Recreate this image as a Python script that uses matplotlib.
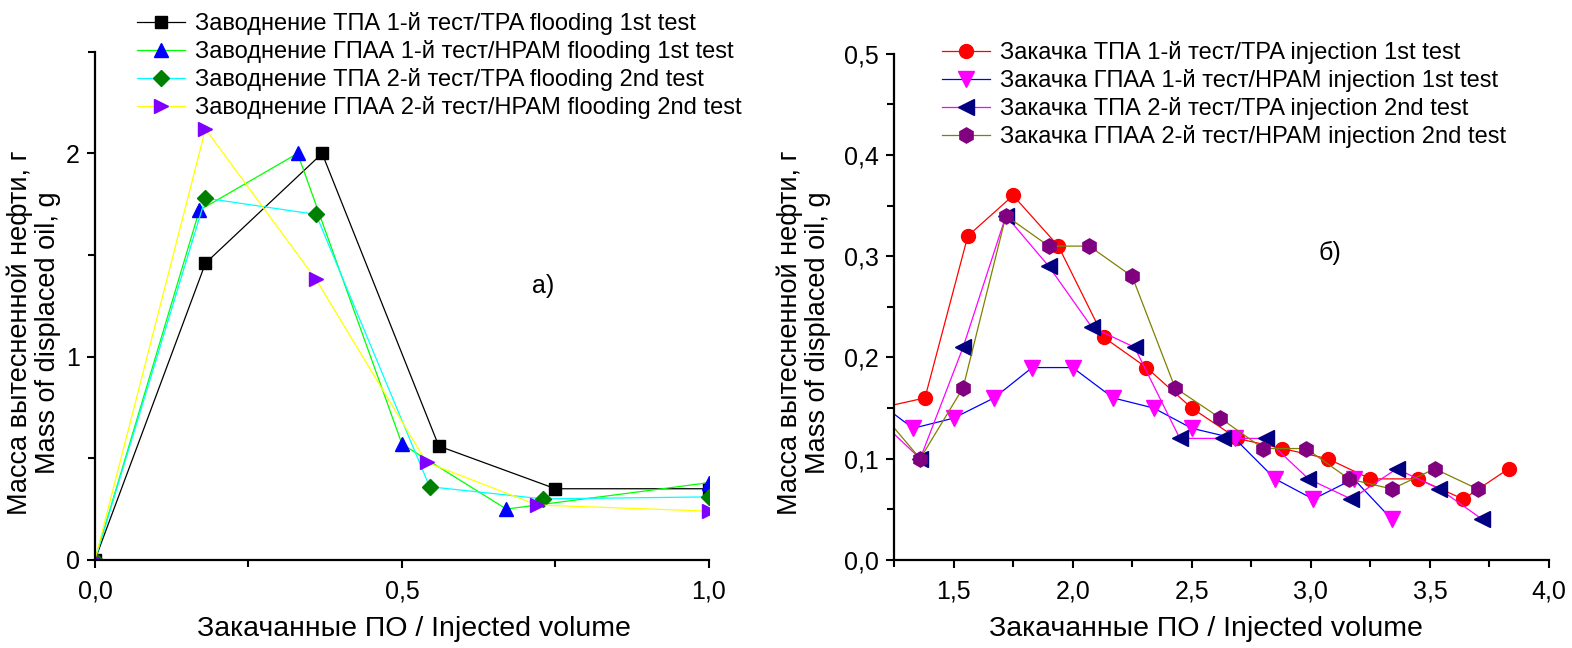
import matplotlib
matplotlib.use('Agg')
import matplotlib.pyplot as plt
from matplotlib.ticker import MultipleLocator, FuncFormatter

# --- flooding (left panel) ---
tpa1_x = [0.0, 0.18, 0.37, 0.56, 0.75, 1.0]
tpa1_y = [0.0, 1.46, 2.0, 0.56, 0.35, 0.35]
hpam1_x = [0.0, 0.17, 0.33, 0.50, 0.67, 1.0]
hpam1_y = [0.0, 1.72, 2.0, 0.57, 0.25, 0.38]
tpa2_x = [0.0, 0.18, 0.36, 0.545, 0.73, 1.0]
tpa2_y = [0.0, 1.78, 1.70, 0.36, 0.30, 0.31]
hpam2_x = [0.0, 0.18, 0.36, 0.54, 0.72, 1.0]
hpam2_y = [0.0, 2.12, 1.38, 0.48, 0.27, 0.24]

# --- injection (right panel) ---
inj_tpa1_x = [1.19, 1.38, 1.56, 1.75, 1.94, 2.13, 2.31, 2.50, 2.69, 2.88, 3.07, 3.25, 3.45, 3.64, 3.83]
inj_tpa1_y = [0.15, 0.16, 0.32, 0.36, 0.31, 0.22, 0.19, 0.15, 0.12, 0.11, 0.10, 0.08, 0.08, 0.06, 0.09]
inj_hpam1_x = [1.16, 1.33, 1.50, 1.67, 1.83, 2.00, 2.17, 2.34, 2.50, 2.68, 2.85, 3.01, 3.18, 3.34]
inj_hpam1_y = [0.16, 0.13, 0.14, 0.16, 0.19, 0.19, 0.16, 0.15, 0.13, 0.12, 0.08, 0.06, 0.08, 0.04]
inj_tpa2_x = [1.18, 1.36, 1.54, 1.72, 1.90, 2.08, 2.26, 2.45, 2.63, 2.81, 2.99, 3.17, 3.36, 3.54, 3.72]
inj_tpa2_y = [0.14, 0.10, 0.21, 0.34, 0.29, 0.23, 0.21, 0.12, 0.12, 0.12, 0.08, 0.06, 0.09, 0.07, 0.04]
inj_hpam2_x = [1.18, 1.36, 1.54, 1.72, 1.90, 2.07, 2.25, 2.43, 2.62, 2.80, 2.98, 3.16, 3.34, 3.52, 3.70]
inj_hpam2_y = [0.15, 0.10, 0.17, 0.34, 0.31, 0.31, 0.28, 0.17, 0.14, 0.11, 0.11, 0.08, 0.07, 0.09, 0.07]

labels_left = ['Заводнение ТПА 1-й тест/TPA flooding 1st test',
               'Заводнение ГПАА 1-й тест/HPAM flooding 1st test',
               'Заводнение ТПА 2-й тест/TPA flooding 2nd test',
               'Заводнение ГПАА 2-й тест/HPAM flooding 2nd test']
labels_right = ['Закачка ТПА 1-й тест/TPA injection 1st test',
                'Закачка ГПАА 1-й тест/HPAM injection 1st test',
                'Закачка ТПА 2-й тест/TPA injection 2nd test',
                'Закачка ГПАА 2-й тест/HPAM injection 2nd test']

xlabel = 'Закачанные ПО / Injected volume'
ylabel = 'Масса вытесненной нефти, г\nMass of displaced oil, g'

plt.rcParams['font.family'] = ['Liberation Sans', 'DejaVu Sans']

fig = plt.figure(figsize=(15.72, 6.48), dpi=100)
ax1 = fig.add_axes([0.0604, 0.136, 0.3906, 0.784])
ax2 = fig.add_axes([0.5687, 0.136, 0.4167, 0.781])

lw = 0.9
ax1.plot(tpa1_x, tpa1_y, color='black', lw=lw, marker='s', ms=8, mfc='black', mec='black', label=labels_left[0])
ax1.plot(hpam1_x, hpam1_y, color='#00ff00', lw=lw, marker='^', ms=10, mfc='#0000ff', mec='#0000ff', label=labels_left[1])
ax1.plot(tpa2_x, tpa2_y, color='#00ffff', lw=lw, marker='D', ms=8, mfc='#008000', mec='#008000', label=labels_left[2])
ax1.plot(hpam2_x, hpam2_y, color='#ffff00', lw=lw, marker='>', ms=10, mfc='#8000ff', mec='#8000ff', label=labels_left[3])

ax2.plot(inj_tpa1_x, inj_tpa1_y, color='#ff0000', lw=lw, marker='o', ms=10, mfc='#ff0000', mec='#ff0000', label=labels_right[0])
ax2.plot(inj_hpam1_x, inj_hpam1_y, color='#0000ff', lw=lw, marker='v', ms=11, mfc='#ff00ff', mec='#ff00ff', label=labels_right[1])
ax2.plot(inj_tpa2_x, inj_tpa2_y, color='#ff00ff', lw=lw, marker='<', ms=11, mfc='#000080', mec='#000080', label=labels_right[2])
ax2.plot(inj_hpam2_x, inj_hpam2_y, color='#808000', lw=lw, marker='h', ms=11, mfc='#800080', mec='#800080', label=labels_right[3])

ax1.set_xlim(0, 1.0)
ax1.set_ylim(0, 2.5)
ax1.xaxis.set_major_locator(MultipleLocator(0.5))
ax1.xaxis.set_minor_locator(MultipleLocator(0.25))
ax1.yaxis.set_major_locator(MultipleLocator(1))
ax1.yaxis.set_minor_locator(MultipleLocator(0.5))
ax1.xaxis.set_major_formatter(FuncFormatter(lambda v, p: f'{v:.1f}'.replace('.', ',')))
ax1.yaxis.set_major_formatter(FuncFormatter(lambda v, p: f'{v:.0f}'))

ax2.set_xlim(1.25, 4.0)
ax2.set_ylim(0, 0.5)
ax2.xaxis.set_major_locator(MultipleLocator(0.5))
ax2.xaxis.set_minor_locator(MultipleLocator(0.25))
ax2.yaxis.set_major_locator(MultipleLocator(0.1))
ax2.yaxis.set_minor_locator(MultipleLocator(0.05))
ax2.xaxis.set_major_formatter(FuncFormatter(lambda v, p: f'{v:.1f}'.replace('.', ',')))
ax2.yaxis.set_major_formatter(FuncFormatter(lambda v, p: f'{v:.1f}'.replace('.', ',')))

for ax in (ax1, ax2):
    for side in ('top', 'right'):
        ax.spines[side].set_visible(False)
    for side in ('left', 'bottom'):
        ax.spines[side].set_linewidth(1.6)
    ax.tick_params(which='major', direction='out', length=6, width=1.5, labelsize=18)
    ax.tick_params(which='minor', direction='out', length=5, width=1.5)
    ax.tick_params(axis='x', which='major', pad=8)
    ax.tick_params(axis='y', which='major', pad=5)
    ax.set_xlabel(xlabel, fontsize=20.5)
    ax.set_ylabel(ylabel, fontsize=19.5, linespacing=1.1)

ax1.xaxis.set_label_coords(0.52, -0.11)
ax2.xaxis.set_label_coords(0.476, -0.11)
ax1.yaxis.set_label_coords(-0.056, 0.447)
ax2.yaxis.set_label_coords(-0.096, 0.449)

ax1.text(0.73, 1.35, 'а)', fontsize=18, ha='center', va='center')
ax2.text(3.08, 0.303, 'б)', fontsize=18, ha='center', va='center')

leg_kw = dict(loc='upper left', frameon=False, fontsize=17, handlelength=2.05,
              handletextpad=0.42, labelspacing=0.21, borderaxespad=0, borderpad=0)
fig.legend(handles=ax1.get_lines(), bbox_to_anchor=(0.0871, 0.981), **leg_kw)
fig.legend(handles=ax2.get_lines(), bbox_to_anchor=(0.5992, 0.936), **leg_kw)

fig.savefig('out.png', dpi=100)
